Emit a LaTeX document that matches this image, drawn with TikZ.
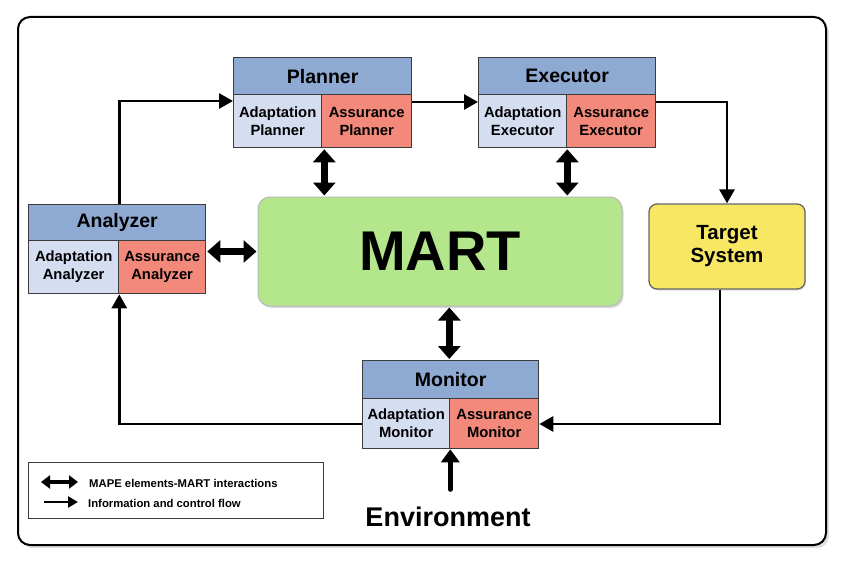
\documentclass[tikz,border=0pt]{standalone}
\usepackage{fontspec}
\setmainfont{Liberation Sans}
\usetikzlibrary{arrows.meta,calc,shadows}
\definecolor{hdrblue}{HTML}{8EA9D2}
\definecolor{adablue}{HTML}{D4DEF0}
\definecolor{assred}{HTML}{F2897A}
\definecolor{martgreen}{HTML}{B4E68B}
\definecolor{tgtyellow}{HTML}{F8E763}
\definecolor{boxline}{HTML}{3C3C3C}
\begin{document}
\begin{tikzpicture}[x=1pt,y=-1pt,
  hdr/.style={draw=boxline,line width=1.3pt,fill=hdrblue,anchor=north west,inner sep=0pt,font=\bfseries\fontsize{19.5}{20}\selectfont},
  ada/.style={draw=boxline,line width=1.3pt,fill=adablue,anchor=north west,inner sep=0pt,align=center,font=\bfseries\fontsize{14.8}{18}\selectfont},
  ass/.style={draw=boxline,line width=1.3pt,fill=assred,anchor=north west,inner sep=0pt,align=center,font=\bfseries\fontsize{14.8}{18}\selectfont},
  flow/.style={line width=2.8pt,-{Triangle[length=14pt,width=15pt]}},
  inter/.style={line width=6.5pt,{Triangle[length=13pt,width=22pt]}-{Triangle[length=13pt,width=22pt]}}
]
\useasboundingbox (0,0) rectangle (850,572);
% outer frame
\draw[line width=2pt,rounded corners=12pt,fill=white,drop shadow={shadow xshift=3pt,shadow yshift=-3pt,opacity=0.25,fill=gray}] (18,17) rectangle (826,545);

% Planner
\node[hdr,minimum width=178pt,minimum height=37pt] (pla-h) at (233,57) {Planner};
\node[ada,minimum width=88pt,minimum height=53pt] (pla-a) at (233,94) {Adaptation\\Planner};
\node[ass,minimum width=90pt,minimum height=53pt] (pla-s) at (321,94) {Assurance\\Planner};
% Executor
\node[hdr,minimum width=177pt,minimum height=37pt] (exe-h) at (478,57) {Executor};
\node[ada,minimum width=88pt,minimum height=53pt] (exe-a) at (478,94) {Adaptation\\Executor};
\node[ass,minimum width=89pt,minimum height=53pt] (exe-s) at (566,94) {Assurance\\Executor};
% Analyzer
\node[hdr,minimum width=177pt,minimum height=36pt] (ana-h) at (28,204) {Analyzer};
\node[ada,minimum width=90pt,minimum height=53pt] (ana-a) at (28,240) {Adaptation\\Analyzer};
\node[ass,minimum width=87pt,minimum height=53pt] (ana-s) at (118,240) {Assurance\\Analyzer};
% Monitor
\node[hdr,minimum width=176pt,minimum height=38pt] (mon-h) at (362,360) {Monitor};
\node[ada,minimum width=87pt,minimum height=50pt] (mon-a) at (362,398) {Adaptation\\Monitor};
\node[ass,minimum width=89pt,minimum height=50pt] (mon-s) at (449,398) {Assurance\\Monitor};

% MART
\node[draw=gray!55,line width=1pt,fill=martgreen,rounded corners=12pt,minimum width=364pt,minimum height=109pt,inner sep=0pt,
  drop shadow={shadow xshift=1.5pt,shadow yshift=-2pt,opacity=0.3,fill=gray},
  font=\bfseries\fontsize{56}{60}\selectfont] (mart) at (440,251.5) {MART};
% Target system
\node[draw=gray!80!black,line width=1.3pt,fill=tgtyellow,rounded corners=8pt,minimum width=156pt,minimum height=85pt,inner sep=0pt,align=center,
  drop shadow={shadow xshift=1pt,shadow yshift=-1.5pt,opacity=0.25,fill=gray},
  font=\bfseries\fontsize{20.5}{23}\selectfont] (tgt) at (727,246.5) {Target\\System};

% Environment
\node[font=\bfseries\fontsize{27}{30}\selectfont] (env) at (448,517) {Environment};

% flow connectors
\coordinate (anaTop) at (ana-h.north -| ana-a.east);
\coordinate (plaIn) at ($(pla-a.north west)+(0,7)$);
\draw[flow] (anaTop) |- (plaIn);
\coordinate (plaOut) at ($(pla-s.north east)+(0,8)$);
\draw[flow] (plaOut) -- (plaOut -| exe-a.west);
\coordinate (exeOut) at ($(exe-s.north east)+(0,8)$);
\coordinate (tgtIn) at (tgt.north);
\draw[flow] (exeOut) -| (tgtIn);
\coordinate (tgtOut) at ($(tgt.south)+(-7,0)$);
\coordinate (monIn) at ($(mon-s.north east)+(0,26)$);
\draw[flow] (tgtOut) |- (monIn);
\coordinate (monOut) at ($(mon-a.north west)+(0,26)$);
\draw[flow] (monOut) -| (ana-a.south east);
\coordinate (envTop) at ($(env.north -| mon-a.south east)+(0,-14)$);
\draw[line width=4.5pt,line cap=round,-{Triangle[length=13pt,width=18pt]}] (envTop) -- (mon-a.south east);

% MART interactions
\draw[inter] ($(pla-a.south east)+(2,1)$) -- ($(pla-a.south east |- mart.north)+(2,-1)$);
\draw[inter] ($(exe-a.south east)+(0,1)$) -- ($(exe-a.south east |- mart.north)+(0,-1)$);
\draw[inter] ($(mart.south -| mon-a.east)+(-1,1)$) -- ($(mon-h.north -| mon-a.east)+(-1,-1)$);
\draw[inter] ($(ana-s.east |- mart.west)+(1,0)$) -- ($(mart.west)+(-1,0)$);

% legend
\node[draw=boxline,line width=0.9pt,minimum width=295pt,minimum height=56pt,anchor=north west,inner sep=0pt] (leg) at (28,462) {};
\coordinate (l1a) at (41,482);
\coordinate (l1b) at (78,482);
\coordinate (l2a) at (44,502);
\coordinate (l2b) at (78,502);
\draw[line width=4pt,{Triangle[length=9pt,width=13pt]}-{Triangle[length=9pt,width=13pt]}] (l1a) -- (l1b);
\draw[line width=2.6pt,-{Triangle[length=10pt,width=11pt]}] (l2a) -- (l2b);
\node[anchor=west,inner sep=0pt,font=\bfseries\fontsize{11.3}{13}\selectfont] (lt1) at (89,483) {MAPE elements-MART interactions};
\node[anchor=west,inner sep=0pt,font=\bfseries\fontsize{11.3}{13}\selectfont] (lt2) at (88,503) {Information and control flow};
\end{tikzpicture}
\end{document}
